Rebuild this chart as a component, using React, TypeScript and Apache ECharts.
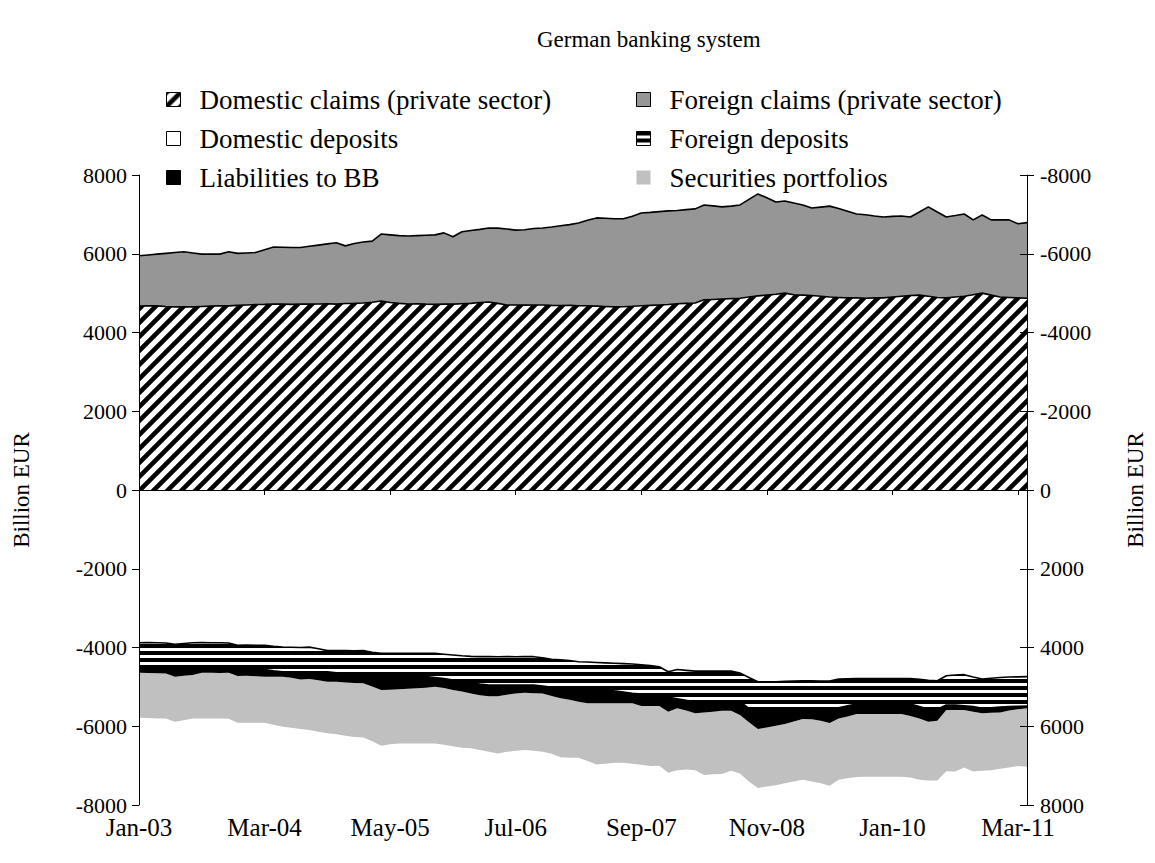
import React, { useEffect, useRef } from "react";
import * as echarts from "echarts";

const FONT = "Liberation Serif";

const categories = [
  "Jan-03", "Feb-03", "Mar-03", "Apr-03", "May-03", "Jun-03", "Jul-03", "Aug-03", "Sep-03", "Oct-03", "Nov-03", "Dec-03",
  "Jan-04", "Feb-04", "Mar-04", "Apr-04", "May-04", "Jun-04", "Jul-04", "Aug-04", "Sep-04", "Oct-04", "Nov-04", "Dec-04",
  "Jan-05", "Feb-05", "Mar-05", "Apr-05", "May-05", "Jun-05", "Jul-05", "Aug-05", "Sep-05", "Oct-05", "Nov-05", "Dec-05",
  "Jan-06", "Feb-06", "Mar-06", "Apr-06", "May-06", "Jun-06", "Jul-06", "Aug-06", "Sep-06", "Oct-06", "Nov-06", "Dec-06",
  "Jan-07", "Feb-07", "Mar-07", "Apr-07", "May-07", "Jun-07", "Jul-07", "Aug-07", "Sep-07", "Oct-07", "Nov-07", "Dec-07",
  "Jan-08", "Feb-08", "Mar-08", "Apr-08", "May-08", "Jun-08", "Jul-08", "Aug-08", "Sep-08", "Oct-08", "Nov-08", "Dec-08",
  "Jan-09", "Feb-09", "Mar-09", "Apr-09", "May-09", "Jun-09", "Jul-09", "Aug-09", "Sep-09", "Oct-09", "Nov-09", "Dec-09",
  "Jan-10", "Feb-10", "Mar-10", "Apr-10", "May-10", "Jun-10", "Jul-10", "Aug-10", "Sep-10", "Oct-10", "Nov-10", "Dec-10",
  "Jan-11", "Feb-11", "Mar-11", "Apr-11",
];

// Assets (plotted above zero), billion EUR
const domesticClaims = [
  4670, 4680, 4675, 4660, 4650, 4655, 4650, 4660, 4670, 4680,
  4675, 4690, 4700, 4710, 4715, 4725, 4720, 4715, 4725, 4720,
  4725, 4730, 4720, 4735, 4740, 4750, 4770, 4800, 4760, 4740,
  4725, 4730, 4720, 4715, 4720, 4720, 4730, 4740, 4760, 4775,
  4740, 4700, 4700, 4695, 4700, 4700, 4690, 4685, 4690, 4680,
  4680, 4670, 4660, 4650, 4655, 4665, 4680, 4690, 4700, 4710,
  4730, 4740, 4750, 4830, 4840, 4850, 4860, 4870, 4900, 4930,
  4950, 4970, 5000, 4960, 4950, 4940, 4920, 4900, 4890, 4880,
  4880, 4870, 4880, 4880, 4900, 4920, 4940, 4950, 4920, 4890,
  4880, 4900, 4920, 4960, 5000, 4950, 4900, 4890, 4880, 4870,
];
const foreignClaims = [
  1280, 1290, 1315, 1350, 1380, 1395, 1370, 1330, 1320, 1310,
  1375, 1320, 1320, 1320, 1385, 1445, 1445, 1445, 1435, 1470,
  1495, 1520, 1560, 1465, 1520, 1550, 1550, 1700, 1720, 1720,
  1725, 1730, 1750, 1765, 1810, 1710, 1830, 1850, 1860, 1880,
  1910, 1930, 1900, 1915, 1940, 1955, 1990, 2025, 2050, 2100,
  2170, 2240, 2240, 2240, 2235, 2285, 2355, 2360, 2370, 2380,
  2370, 2380, 2390, 2410, 2375, 2340, 2350, 2370, 2480, 2590,
  2470, 2345, 2340, 2330, 2290, 2220, 2265, 2310, 2260, 2200,
  2130, 2120, 2080, 2055, 2050, 2040, 1995, 2110, 2270, 2170,
  2055, 2070, 2090, 1900, 1985, 1910, 1960, 1970, 1880, 1920,
];

// Liabilities (magnitudes, plotted below zero), billion EUR
const domesticDeposits = [
  3880, 3875, 3880, 3885, 3920, 3900, 3880, 3875, 3880, 3880,
  3885, 3945, 3940, 3945, 3945, 3970, 3990, 3995, 4000, 3990,
  4030, 4080, 4075, 4080, 4085, 4080, 4120, 4150, 4150, 4150,
  4145, 4150, 4150, 4150, 4170, 4190, 4210, 4225, 4233, 4230,
  4235, 4230, 4235, 4233, 4233, 4260, 4297, 4310, 4330, 4360,
  4370, 4380, 4390, 4400, 4410, 4420, 4440, 4460, 4488, 4615,
  4560, 4580, 4600, 4600, 4600, 4600, 4600, 4650, 4760, 4870,
  4870, 4870, 4860, 4850, 4843, 4845, 4850, 4850, 4800, 4795,
  4790, 4790, 4790, 4790, 4790, 4790, 4790, 4810, 4830, 4843,
  4716, 4700, 4690, 4750, 4800, 4780, 4760, 4750, 4745, 4740,
];
const foreignDeposits = [
  608, 613, 610, 603, 580, 610, 640, 655, 665, 675,
  670, 610, 615, 610, 615, 620, 625, 620, 615, 625,
  585, 535, 565, 580, 595, 620, 595, 580, 590, 592,
  597, 590, 590, 610, 620, 636, 650, 675, 697, 723,
  718, 723, 718, 720, 720, 720, 713, 727, 707, 677,
  667, 657, 670, 700, 720, 745, 740, 740, 742, 645,
  740, 760, 776, 776, 776, 776, 776, 726, 785, 675,
  675, 675, 685, 695, 702, 695, 685, 680, 730, 685,
  645, 645, 645, 645, 645, 645, 645, 690, 740, 722,
  744, 760, 790, 750, 745, 750, 750, 750, 750, 750,
];
const liabilitiesToBB = [
  152, 162, 165, 172, 240, 210, 180, 110, 95, 90,
  85, 169, 165, 175, 180, 150, 125, 155, 195, 185,
  215, 253, 230, 230, 220, 211, 275, 350, 330, 318,
  308, 297, 280, 235, 240, 254, 260, 270, 280, 282,
  282, 247, 217, 197, 207, 190, 220, 253, 293, 343,
  381, 381, 358, 318, 288, 253, 306, 286, 256, 370,
  240, 260, 297, 274, 254, 229, 229, 339, 355, 525,
  485, 445, 400, 335, 270, 280, 325, 390, 270, 270,
  255, 255, 255, 255, 255, 255, 305, 300, 315, 295,
  130, 130, 110, 130, 125, 130, 140, 100, 75, 55,
];
const securitiesPortfolios = [
  1143, 1140, 1145, 1140, 1144, 1130, 1100, 1160, 1160, 1155,
  1170, 1186, 1190, 1180, 1170, 1220, 1272, 1270, 1260, 1296,
  1310, 1312, 1330, 1350, 1370, 1372, 1390, 1414, 1390, 1375,
  1385, 1398, 1415, 1440, 1440, 1430, 1425, 1390, 1390, 1415,
  1455, 1450, 1450, 1450, 1460, 1480, 1470, 1500, 1470, 1420,
  1462, 1552, 1532, 1512, 1512, 1532, 1494, 1524, 1514, 1550,
  1580, 1500, 1447, 1590, 1590, 1605, 1525, 1485, 1500, 1500,
  1500, 1510, 1500, 1520, 1545, 1580, 1590, 1590, 1560, 1570,
  1600, 1590, 1590, 1590, 1590, 1590, 1560, 1560, 1495, 1520,
  1550, 1560, 1460, 1520, 1460, 1460, 1430, 1450, 1440, 1485,
];

const SERIES_NAMES = {
  dc: "Domestic claims (private sector)",
  fc: "Foreign claims (private sector)",
  dd: "Domestic deposits",
  fd: "Foreign deposits",
  bb: "Liabilities to BB",
  sp: "Securities portfolios",
};

function makeHatch(): HTMLCanvasElement {
  const s = 14;
  const c = document.createElement("canvas");
  c.width = s;
  c.height = s;
  const ctx = c.getContext("2d")!;
  ctx.fillStyle = "#ffffff";
  ctx.fillRect(0, 0, s, s);
  ctx.strokeStyle = "#000000";
  ctx.lineWidth = 4.6;
  ctx.beginPath();
  for (let k = -1; k <= 1; k++) {
    ctx.moveTo(k * s - 3, s + 3);
    ctx.lineTo(k * s + s + 3, -3);
  }
  ctx.stroke();
  return c;
}

function makeStripes(): HTMLCanvasElement {
  const c = document.createElement("canvas");
  c.width = 8;
  c.height = 7;
  const ctx = c.getContext("2d")!;
  ctx.fillStyle = "#ffffff";
  ctx.fillRect(0, 0, 8, 7);
  ctx.fillStyle = "#000000";
  ctx.fillRect(0, 0, 8, 4);
  return c;
}

export default function App() {
  const ref = useRef<HTMLDivElement>(null);

  useEffect(() => {
    if (!ref.current) return;
    const chart = echarts.init(ref.current, null, { renderer: "svg" });

    const hatch: any = { image: makeHatch(), repeat: "repeat", imageWidth: 14, imageHeight: 14 };
    const stripes: any = { image: makeStripes(), repeat: "repeat", imageWidth: 8, imageHeight: 7 };

    const yLabelFont = { fontFamily: FONT, fontSize: 22, color: "#000" };
    const xLabelFont = { fontFamily: FONT, fontSize: 25, color: "#000" };
    const axisLine = { show: true, lineStyle: { color: "#000", width: 1 } };
    const plain = (v: number) => String(v);

    const area = (name: string, data: number[], fill: any, border: boolean, z: number) => ({
      name,
      type: "line",
      stack: "total",
      data,
      symbol: "none",
      showSymbol: false,
      xAxisIndex: 0,
      yAxisIndex: 0,
      z,
      lineStyle: border ? { color: "#000", width: 1.6 } : { width: 0, opacity: 0 },
      areaStyle: { color: fill, opacity: 1 },
      itemStyle: { color: fill },
      emphasis: { disabled: true },
      silent: true,
    });

    const legendText = {
      fontFamily: FONT,
      fontSize: 27,
      color: "#000",
      lineHeight: 27,
      padding: [0, 0, 0, 14],
    };

    const option: any = {
      animation: false,
      backgroundColor: "#ffffff",
      title: {
        text: "German banking system",
        left: 537,
        top: 28,
        padding: 0,
        textStyle: { fontFamily: FONT, fontSize: 23, fontWeight: "normal", color: "#000" },
      },
      legend: [
        {
          orient: "vertical",
          left: 166,
          top: 86,
          padding: 0,
          itemGap: 12,
          itemWidth: 14,
          itemHeight: 14,
          icon: "rect",
          selectedMode: false,
          textStyle: legendText,
          data: [
            { name: SERIES_NAMES.dc, itemStyle: { color: hatch, borderColor: "#000", borderWidth: 1 } },
            { name: SERIES_NAMES.dd, itemStyle: { color: "#ffffff", borderColor: "#000", borderWidth: 1 } },
            { name: SERIES_NAMES.bb, itemStyle: { color: "#000000", borderColor: "#000", borderWidth: 1 } },
          ],
        },
        {
          orient: "vertical",
          left: 636,
          top: 86,
          padding: 0,
          itemGap: 12,
          itemWidth: 14,
          itemHeight: 14,
          icon: "rect",
          selectedMode: false,
          textStyle: legendText,
          data: [
            { name: SERIES_NAMES.fc, itemStyle: { color: "#969696", borderColor: "#000", borderWidth: 1 } },
            { name: SERIES_NAMES.fd, itemStyle: { color: stripes, borderColor: "#000", borderWidth: 1 } },
            { name: SERIES_NAMES.sp, itemStyle: { color: "#c0c0c0", borderWidth: 0 } },
          ],
        },
      ],
      grid: { left: 139, right: 127, top: 175, bottom: 58, containLabel: false },
      xAxis: [
        {
          type: "category",
          data: categories,
          boundaryGap: false,
          z: 10,
          axisLine: { show: true, onZero: true, lineStyle: { color: "#000", width: 1 } },
          axisTick: { show: true, interval: 13, length: 5, lineStyle: { color: "#000" } },
          axisLabel: { show: false },
          splitLine: { show: false },
        },
        {
          type: "category",
          data: categories,
          boundaryGap: false,
          position: "bottom",
          z: 10,
          axisLine: { show: false, onZero: false },
          axisTick: { show: false },
          axisLabel: { ...xLabelFont, interval: 13, margin: 10, hideOverlap: false },
          splitLine: { show: false },
        },
      ],
      yAxis: [
        {
          type: "value",
          position: "left",
          min: -8000,
          max: 8000,
          interval: 2000,
          z: 10,
          axisLine,
          axisTick: { show: true, length: 7, lineStyle: { color: "#000" } },
          axisLabel: { ...yLabelFont, margin: 12, formatter: plain },
          splitLine: { show: false },
          name: "Billion EUR",
          nameLocation: "middle",
          nameRotate: 90,
          nameGap: 106,
          nameTextStyle: { fontFamily: FONT, fontSize: 23, color: "#000" },
        },
        {
          type: "value",
          position: "right",
          inverse: true,
          min: -8000,
          max: 8000,
          interval: 2000,
          z: 10,
          axisLine,
          axisTick: { show: true, length: 7, lineStyle: { color: "#000" } },
          axisLabel: { ...yLabelFont, margin: 13, formatter: plain },
          splitLine: { show: false },
          name: "Billion EUR",
          nameLocation: "middle",
          nameRotate: 90,
          nameGap: 97,
          nameTextStyle: { fontFamily: FONT, fontSize: 23, color: "#000" },
        },
        {
          type: "value",
          position: "right",
          inverse: true,
          min: -8000,
          max: 8000,
          interval: 2000,
          z: 10,
          axisLine: { show: false },
          axisTick: { show: true, inside: true, length: 7, lineStyle: { color: "#000" } },
          axisLabel: { show: false },
          splitLine: { show: false },
        },
      ],
      series: [
        area(SERIES_NAMES.dc, domesticClaims, hatch, true, 9),
        area(SERIES_NAMES.fc, foreignClaims, "#969696", true, 8),
        area(SERIES_NAMES.dd, domesticDeposits.map((v) => -v), "#ffffff", true, 7),
        area(SERIES_NAMES.fd, foreignDeposits.map((v) => -v), stripes, true, 6),
        area(SERIES_NAMES.bb, liabilitiesToBB.map((v) => -v), "#000000", false, 5),
        area(SERIES_NAMES.sp, securitiesPortfolios.map((v) => -v), "#c0c0c0", false, 4),
      ],
    };

    chart.setOption(option);
    return () => chart.dispose();
  }, []);

  return (
    <div
      ref={ref}
      style={{ position: "absolute", left: 0, top: 0, width: 1155, height: 863, background: "#fff" }}
    />
  );
}
